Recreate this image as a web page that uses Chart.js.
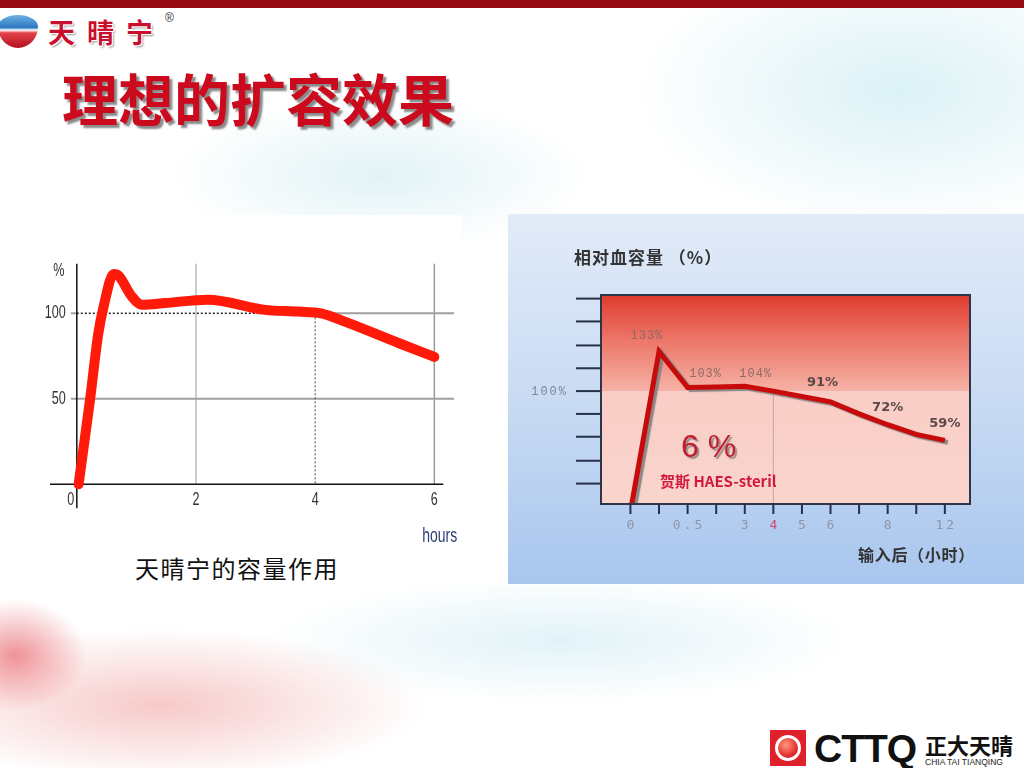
<!DOCTYPE html>
<html>
<head>
<meta charset="utf-8">
<script src="https://cdn.jsdelivr.net/npm/chart.js@4.4.1/dist/chart.umd.min.js"></script>
<style>
  html, body { margin: 0; padding: 0; }
  body {
    width: 1024px; height: 768px; position: relative; overflow: hidden;
    font-family: "Noto Sans CJK SC", "Noto Sans", sans-serif;
    background:
      radial-gradient(ellipse 300px 110px at 380px 175px, rgba(170,220,230,0.35), rgba(255,255,255,0) 70%),
      radial-gradient(ellipse 380px 200px at 900px 90px, rgba(175,225,235,0.45), rgba(255,255,255,0) 70%),
      radial-gradient(ellipse 420px 90px at 560px 640px, rgba(170,220,235,0.35), rgba(255,255,255,0) 70%),
      radial-gradient(ellipse 380px 110px at 160px 705px, rgba(235,120,120,0.40), rgba(255,255,255,0) 70%),
      radial-gradient(ellipse 90px 70px at 15px 655px, rgba(225,60,70,0.55), rgba(255,255,255,0) 80%),
      #fff;
  }
  .abs { position: absolute; white-space: nowrap; line-height: 1; }
  #topbar { left: 0; top: 0; width: 1024px; height: 8px; background: #980a12; }
  #heart {
    left: -2px; top: 15px; width: 40px; height: 33px;
    border-radius: 50% 50% 50% 50% / 35% 35% 65% 65%;
    background: linear-gradient(180deg, #6fb2e4 0%, #2a78bf 38%, #ffffff 46%, #e2424a 54%, #b3101e 100%);
  }
  #brand { left: 48px; top: 18px; font-size: 27px; font-weight: 700; color: #c8102e; letter-spacing: 12px;
    text-shadow: 1px 1px 0 #fff, -1px -1px 0 #fff, 1px -1px 0 #fff, -1px 1px 0 #fff, 2px 2px 2px #999; }
  #reg { left: 165px; top: 12px; font-size: 12px; color: #333; font-family: "Liberation Sans", sans-serif; }
  #title { left: 62px; top: 69px; font-size: 56px; font-weight: 700; color: #cc0a1e;
    text-shadow: 3px 3px 2px #8a8a8a; }
  #leftBox { left: 28px; top: 215px; width: 434px; height: 340px; background: #fff; }
  #leftChart { position: absolute; left: 30px; top: 250px; }
  #caption { left: 135px; top: 556px; font-size: 24px; color: #111; letter-spacing: 1.5px; }
  #panel { left: 508px; top: 214px; width: 516px; height: 370px;
    background: linear-gradient(180deg, #e2ebf8 0%, #c9dbf3 50%, #a8c6ee 100%); }
  #rightChart { position: absolute; left: 508px; top: 214px; }
  #yTitle { left: 574px; top: 248px; font-size: 17px; font-weight: 700; color: #333; letter-spacing: 1px; }
  #xTitle { left: 858px; top: 546px; font-size: 16px; font-weight: 700; color: #333; letter-spacing: 0.7px; }
  #pct { left: 681px; top: 430px; font-size: 32px; color: #c01e2e; font-family: "Liberation Sans", sans-serif;
    text-shadow: 2px 2px 1px #9a8a8a; }
  #brandName { left: 660px; top: 473px; font-size: 15px; font-weight: 700; color: #d41a3c; }
  #cttqBox { left: 770px; top: 730px; width: 36px; height: 36px; background: #e0202a; }
  #cttqRing { left: 775px; top: 735px; width: 20px; height: 20px; border: 3px solid #fff; border-radius: 50%;
    background: radial-gradient(circle at 40% 35%, #ff9a7a, #e0202a 70%); }
  #cttq { left: 814px; top: 729px; font-size: 39px; font-weight: 700; color: #111;
    font-family: "Liberation Sans", sans-serif; letter-spacing: -1px; }
  #cttqCn { left: 925px; top: 733px; font-size: 22px; font-weight: 700; color: #111; }
  #cttqEn { left: 925px; top: 758px; font-size: 8.5px; color: #222; font-family: "Liberation Sans", sans-serif; }
</style>
</head>
<body>
<div class="abs" id="topbar"></div>
<div class="abs" id="heart"></div>
<div class="abs" id="brand">天晴宁</div>
<div class="abs" id="reg">®</div>
<div class="abs" id="title">理想的扩容效果</div>

<div class="abs" id="leftBox"></div>
<canvas id="leftChart" width="440" height="300"></canvas>
<div class="abs" id="caption">天晴宁的容量作用</div>

<div class="abs" id="panel"></div>
<canvas id="rightChart" width="516" height="370"></canvas>
<div class="abs" id="yTitle">相对血容量 （%）</div>
<div class="abs" id="xTitle">输入后（小时）</div>
<div class="abs" id="pct">6 %</div>
<div class="abs" id="brandName">贺斯 HAES-steril</div>

<div class="abs" id="cttqBox"></div>
<div class="abs" id="cttqRing"></div>
<div class="abs" id="cttq">CTTQ</div>
<div class="abs" id="cttqCn">正大天晴</div>
<div class="abs" id="cttqEn">CHIA TAI TIANQING</div>

<script>
// left chart: 天晴宁 volume effect (% vs hours)
const leftHours = [0.03, 0.22, 0.36, 0.45, 0.62, 0.70, 0.92, 1.09, 1.48, 2.2, 3.16, 3.72, 4.1, 4.51, 5.41, 6.0];
const leftVolume = [0, 49, 88, 104, 123, 122, 110, 105, 106, 108, 102, 101, 100, 95, 82.5, 74.5];
const leftXTicks = [0, 2, 4, 6];
const leftYTicks = [50, 100];

// right chart: 贺斯 HAES-steril 6% (relative blood volume after infusion)
const rightLabels = ["0", "", "0.5", "", "3", "4", "5", "6", "", "8", "", "12"];
const rightVolume = [0, 133, 103, 103.5, 104, 100, 95.5, 91, 81, 72, 64, 59];
const rightTags = ["", "133%", "103%", "", "104%", "", "", "91%", "", "72%", "", "59%"];
const rightYTicks = [23, 42, 62, 81, 100, 119, 138, 158, 177];

// where each value tag sits relative to its point, and which look it has
const tagOffsets = [null, [-12, -16], [18, -14], null, [11, -12], null, null, [-8, -19], null, [0, -17], null, [0, -17]];
const tagBold = [false, false, false, false, false, false, false, true, false, true, false, true];

function narrowText(ctx, text, px, py, align, size, color, squeeze) {
  ctx.save();
  ctx.font = size + 'px "Liberation Sans", sans-serif';
  ctx.fillStyle = color;
  ctx.textBaseline = 'middle';
  ctx.textAlign = align;
  ctx.translate(px, py);
  ctx.scale(squeeze || 0.7, 1);
  ctx.fillText(text, 0, 0);
  ctx.restore();
}

const leftFrame = {
  id: 'leftFrame',
  beforeDatasetsDraw(chart) {
    const { ctx, scales: { x, y } } = chart;
    const seg = (x1, y1, x2, y2, color, width, dash) => {
      ctx.save();
      ctx.strokeStyle = color;
      ctx.lineWidth = width;
      ctx.setLineDash(dash || []);
      ctx.beginPath();
      ctx.moveTo(x.getPixelForValue(x1), y.getPixelForValue(y1));
      ctx.lineTo(x.getPixelForValue(x2), y.getPixelForValue(y2));
      ctx.stroke();
      ctx.restore();
    };
    seg(2, 129, 2, 0, '#9a9a9a', 1);
    seg(6, 129, 6, 0, '#9a9a9a', 1.5);
    seg(-0.1, 50, 6.33, 50, '#a0a0a0', 2);
    seg(-0.1, 100, 0, 100, '#a0a0a0', 2);
    seg(4, 100, 6.33, 100, '#a0a0a0', 2);
    seg(0, 100, 4, 100, '#222', 1.5, [2, 2]);
    seg(4, 100, 4, 0, '#444', 1, [2, 2]);
    seg(0, 129, 0, -14, '#111', 1.5);
    seg(-0.45, 0, 6.15, 0, '#111', 1.5);
  },
  afterDatasetsDraw(chart) {
    const { ctx, scales: { x, y } } = chart;
    const lx = x.getPixelForValue(0) - 11;
    leftYTicks.forEach(v => narrowText(ctx, String(v), lx, y.getPixelForValue(v), 'right', 18, '#333'));
    narrowText(ctx, '%', x.getPixelForValue(0) - 18, y.getPixelForValue(125), 'center', 18, '#333');
    leftXTicks.forEach(v => {
      const px = v === 0 ? x.getPixelForValue(v) - 6 : x.getPixelForValue(v);
      narrowText(ctx, String(v), px, y.getPixelForValue(-9), 'center', 18, '#333');
    });
    narrowText(ctx, 'hours', x.getPixelForValue(6.09), y.getPixelForValue(-30.6), 'center', 20, '#2b3b73', 0.7);
  }
};

new Chart(document.getElementById('leftChart'), {
  type: 'line',
  data: {
    datasets: [{
      data: leftHours.map((h, i) => ({ x: h, y: leftVolume[i] })),
      borderColor: '#ff1a0a',
      borderWidth: 10,
      borderCapStyle: 'round',
      borderJoinStyle: 'round',
      pointRadius: 0,
      cubicInterpolationMode: 'monotone',
      fill: false
    }]
  },
  options: {
    responsive: false,
    animation: false,
    events: [],
    layout: { padding: { left: 20, right: 16, top: 12, bottom: 40 } },
    plugins: { legend: { display: false }, tooltip: { enabled: false } },
    scales: {
      x: { type: 'linear', min: -0.45, max: 6.33, display: false },
      y: { min: -15, max: 130, display: false }
    }
  },
  plugins: [leftFrame]
});

const lineShadow = {
  id: 'lineShadow',
  beforeDatasetDraw(chart) {
    const ctx = chart.ctx;
    ctx.save();
    ctx.shadowColor = 'rgba(128,128,128,0.9)';
    ctx.shadowOffsetX = 3;
    ctx.shadowOffsetY = 2;
    ctx.shadowBlur = 1;
  },
  afterDatasetDraw(chart) {
    chart.ctx.restore();
  }
};

const rightFrame = {
  id: 'rightFrame',
  beforeDatasetsDraw(chart) {
    const { ctx, chartArea: a, scales: { x, y } } = chart;
    const mid = y.getPixelForValue(100);
    ctx.save();
    let g = ctx.createLinearGradient(0, a.top, 0, mid);
    g.addColorStop(0, '#e03b2f');
    g.addColorStop(0.45, '#ec7466');
    g.addColorStop(1, '#f6b2a6');
    ctx.fillStyle = g;
    ctx.fillRect(a.left, a.top, a.width, mid - a.top);
    g = ctx.createLinearGradient(0, mid, 0, a.bottom);
    g.addColorStop(0, '#f9cdc5');
    g.addColorStop(1, '#f9d5ce');
    ctx.fillStyle = g;
    ctx.fillRect(a.left, mid, a.width, a.bottom - mid);
    // thin marker at 4 h
    const vx = x.getPixelForValue(5);
    ctx.strokeStyle = 'rgba(170,130,130,0.6)';
    ctx.lineWidth = 1;
    ctx.beginPath();
    ctx.moveTo(vx, mid);
    ctx.lineTo(vx, a.bottom);
    ctx.stroke();
    ctx.restore();
  },
  afterDatasetsDraw(chart) {
    const { ctx, chartArea: a, scales: { x, y } } = chart;
    ctx.save();
    ctx.strokeStyle = '#2e3548';
    ctx.lineWidth = 2;
    ctx.strokeRect(a.left, a.top, a.width, a.bottom - a.top);
    // y tick marks
    ctx.strokeStyle = '#26304a';
    rightYTicks.forEach(v => {
      const py = y.getPixelForValue(v);
      ctx.beginPath();
      ctx.moveTo(a.left - 25, py);
      ctx.lineTo(a.left, py);
      ctx.stroke();
    });
    // x tick marks and labels
    ctx.font = '13px "DejaVu Sans Mono", monospace';
    ctx.letterSpacing = '3px';
    ctx.textAlign = 'center';
    ctx.textBaseline = 'middle';
    rightLabels.forEach((lab, i) => {
      const px = x.getPixelForValue(i);
      ctx.beginPath();
      ctx.moveTo(px, a.bottom);
      ctx.lineTo(px, a.bottom + 10);
      ctx.stroke();
      if (lab) {
        ctx.fillStyle = lab === '4' ? '#d3456a' : '#8d96a8';
        ctx.fillText(lab, px + 1.5, a.bottom + 22);
      }
    });
    // 100% label
    ctx.font = '12px "Liberation Mono", monospace';
    ctx.letterSpacing = '2px';
    ctx.textAlign = 'right';
    ctx.fillStyle = '#7d8496';
    ctx.fillText('100%', a.left - 33, y.getPixelForValue(100) + 1);
    // value tags
    const pts = chart.getDatasetMeta(0).data;
    ctx.textAlign = 'center';
    rightTags.forEach((t, i) => {
      if (!t) return;
      const [dx, dy] = tagOffsets[i];
      if (tagBold[i]) {
        ctx.font = 'bold 13px "DejaVu Sans", sans-serif';
        ctx.letterSpacing = '0px';
        ctx.fillStyle = '#5a4848';
      } else {
        ctx.font = '12px "Liberation Mono", monospace';
        ctx.letterSpacing = '1px';
        ctx.fillStyle = '#8b6b66';
      }
      ctx.fillText(t, pts[i].x + dx, pts[i].y + dy);
    });
    ctx.restore();
  }
};

new Chart(document.getElementById('rightChart'), {
  type: 'line',
  data: {
    datasets: [{
      data: rightVolume.map((v, i) => ({ x: i, y: v })),
      borderColor: '#c80a0a',
      borderWidth: 5,
      pointRadius: 0,
      tension: 0,
      fill: false
    }]
  },
  options: {
    responsive: false,
    animation: false,
    events: [],
    layout: { padding: { left: 93, right: 54, top: 81, bottom: 80 } },
    plugins: { legend: { display: false }, tooltip: { enabled: false } },
    scales: {
      x: { type: 'linear', min: -1.03, max: 11.88, display: false },
      y: { min: 6, max: 180, display: false }
    }
  },
  plugins: [rightFrame, lineShadow]
});
</script>
</body>
</html>
